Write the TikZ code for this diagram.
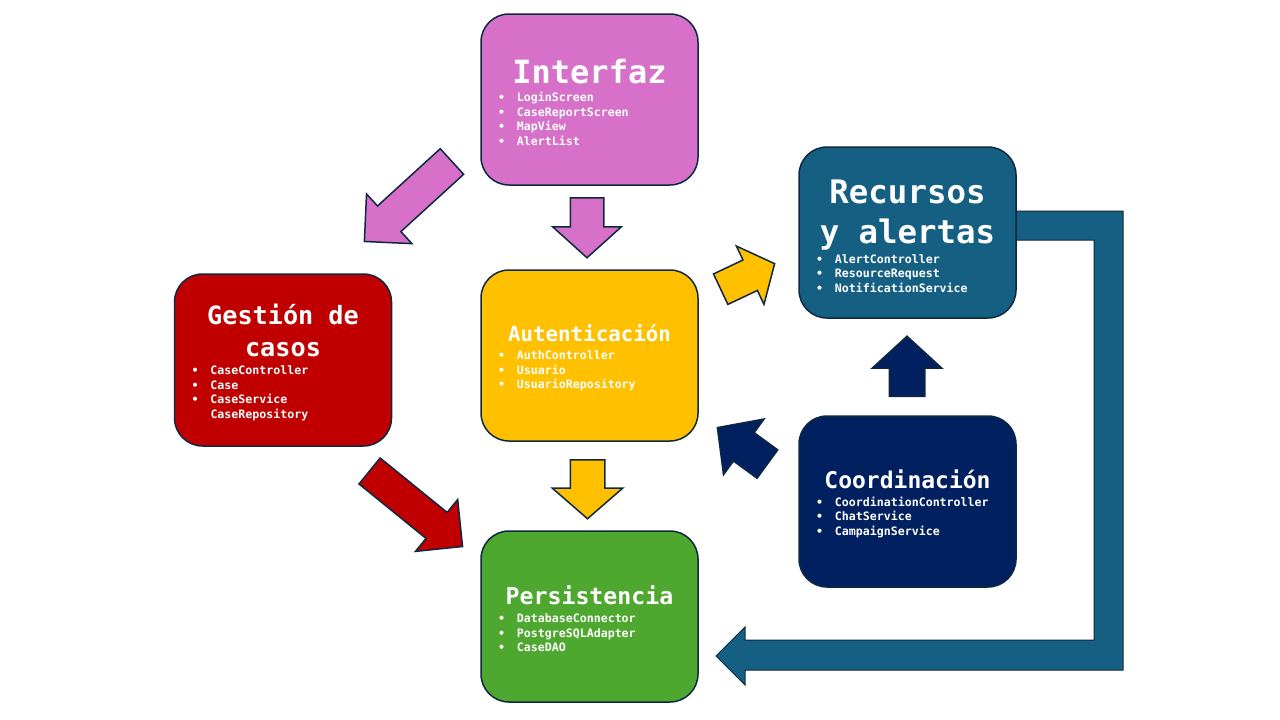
\documentclass[tikz,border=0pt]{standalone}
\usepackage{fontspec}
\setmainfont{DejaVu Sans Mono}
\usepackage{xcolor}
\usetikzlibrary{shapes.arrows}
\definecolor{edge}{HTML}{0E2841}
\definecolor{pinkbox}{HTML}{D670C9}
\definecolor{redbox}{HTML}{C00000}
\definecolor{yellowbox}{HTML}{FFC000}
\definecolor{greenbox}{HTML}{4EA72E}
\definecolor{tealbox}{HTML}{156082}
\definecolor{navybox}{HTML}{002060}
\newcommand{\ttl}[3]{{\centering\fontsize{#1}{#2}\selectfont
  \rule{0pt}{\dimexpr0.8em+5pt\relax}#3\par}\vspace{3.5pt}}
\newcommand{\itm}[1]{\par\noindent\makebox[19pt][l]{•}#1}
\newcommand{\wsp}{\hspace{0.6em}}
\tikzset{
  box/.style={draw=edge, line width=1.5pt, rounded corners=28pt,
    minimum width=217pt, minimum height=171pt, text width=183pt,
    inner xsep=17pt, text=white, font=\fontsize{11.6}{14.5}\selectfont\bfseries},
  blk/.style n args={4}{single arrow, draw=edge, line width=1.5pt,
    inner xsep=0pt, single arrow head indent=0pt, anchor=tail,
    minimum height=#1, inner ysep=#2, single arrow head extend=#3,
    single arrow tip angle=#4},
  bent/.style={draw=edge, line width=1pt, fill=tealbox}
}
\begin{document}
\begin{tikzpicture}[x=1pt, y=-1pt]
  \useasboundingbox (0,0) rectangle (1280,720);
  % the long arrow back to Persistencia
  \node[box, fill=tealbox, draw=none] (rec0) at (907.5,232.5) {};
  \draw[bent] ([xshift=-10pt,yshift=21.5pt]rec0.east) -| (1123,670) -- (745,670)
    -- (745,685) -- (716,656) -- (745,627) -- (745,640) -| (1094,240)
    -- ([xshift=-10pt,yshift=-7.5pt]rec0.east) -- cycle;
  % boxes
  \node[box, fill=pinkbox] (int) at (589.5,99.5)
    {\ttl{32}{40}{Interfaz}\itm{LoginScreen}\itm{CaseReportScreen}\itm{MapView}\itm{AlertList}};
  \node[box, fill=redbox, minimum height=172pt] (ges) at (283,360)
    {\ttl{25.2}{32}{Gestión\wsp de\\casos}\itm{CaseController}\itm{Case}\itm{CaseService}%
     \par\noindent\hspace*{19pt}CaseRepository};
  \node[box, fill=yellowbox] (aut) at (589.5,355.5)
    {\ttl{20.8}{26}{Autenticación}\itm{AuthController}\itm{Usuario}\itm{UsuarioRepository}};
  \node[box, fill=greenbox] (per) at (589.5,616.5)
    {\ttl{23.2}{29}{Persistencia}\itm{DatabaseConnector}\itm{PostgreSQLAdapter}\itm{CaseDAO}};
  \node[box, fill=tealbox] (rec) at (907.5,232.5)
    {\ttl{32.4}{40}{Recursos\\y\wsp alertas}\itm{AlertController}\itm{ResourceRequest}\itm{NotificationService}};
  \node[box, fill=navybox] (coo) at (907.5,501.5)
    {\ttl{23}{29}{Coordinación}\itm{CoordinationController}\itm{ChatService}\itm{CampaignService}};
  % block arrows
  \node[blk={118.6pt}{16.6pt}{16.3pt}{90}, fill=pinkbox, rotate=-137.6] (a1) at (452.5,161) {};
  \node[blk={60pt}{16pt}{17.5pt}{96}, fill=pinkbox, rotate=-90] (a2) at (587,197) {};
  \node[blk={59pt}{16.5pt}{18pt}{98}, fill=yellowbox, rotate=-90] (a3) at (587.5,459) {};
  \node[blk={119.8pt}{16pt}{16.7pt}{90}, fill=redbox, rotate=-39.1] (a4) at (369,470.5) {};
  \node[blk={59.7pt}{16.1pt}{15.4pt}{100}, fill=yellowbox, rotate=25.3] (a5) at (720,289.5) {};
  \node[blk={60pt}{17pt}{17pt}{95}, fill=navybox, rotate=90] (a6) at (907,397) {};
  \node[blk={61.9pt}{16.8pt}{16.9pt}{93}, fill=navybox, rotate=143.9] (a7) at (768,464.5) {};
\end{tikzpicture}
\end{document}
